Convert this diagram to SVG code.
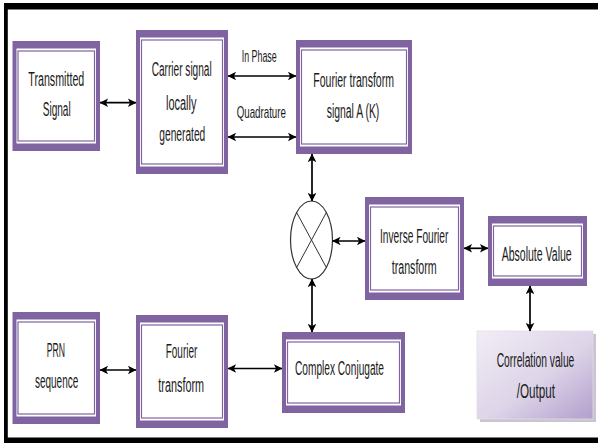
<svg xmlns="http://www.w3.org/2000/svg" width="598" height="443" viewBox="0 0 598 443">
<style>
.o{fill:#8064a2}
.w{fill:#ffffff}
.t{fill:none;stroke:#8064a2;stroke-width:1.2}
text{font-family:"Liberation Sans",Arial,sans-serif;font-size:12px;fill:#1a1a1a;text-anchor:middle}
.lbl{font-size:10px}
.c line{stroke:#000;stroke-width:1.7;marker-start:url(#ah);marker-end:url(#ah)}
</style>
<defs>
<marker id="ah" viewBox="0 0 10 10" refX="9.5" refY="5" markerWidth="9.5" markerHeight="8.5" markerUnits="userSpaceOnUse" orient="auto-start-reverse">
<path d="M0,0 L10,5 L0,10 L2.5,5 z" fill="#000"/>
</marker>
<linearGradient id="g" x1="0" y1="0" x2="1" y2="1">
<stop offset="0" stop-color="#f1edf5"/>
<stop offset="0.55" stop-color="#ddd4e8"/>
<stop offset="1" stop-color="#b29ecc"/>
</linearGradient>
</defs>
<rect width="598" height="443" fill="#fff"/>
<g id="frame">
<rect x="4" y="3" width="600" height="6.5" fill="#000"/>
<rect x="4" y="3" width="3.8" height="440" fill="#000"/>
<rect x="4" y="437.5" width="600" height="6" fill="#000"/>
</g>
<g id="transmitted">
<rect class="o" x="12.5" y="41" width="87.5" height="110"/>
<rect class="w" x="16.5" y="48.5" width="79.5" height="95"/>
<rect class="t" x="18" y="51" width="76.5" height="90"/>
<text transform="translate(56.3,86) scale(1,1.667)" textLength="56" lengthAdjust="spacingAndGlyphs">Transmitted</text>
<text transform="translate(56.7,116) scale(1,1.667)" textLength="28" lengthAdjust="spacingAndGlyphs">Signal</text>
</g>
<g id="carrier">
<rect class="o" x="136" y="30" width="92" height="144"/>
<rect class="w" x="140" y="37.5" width="84" height="129"/>
<rect class="t" x="141.5" y="40" width="81" height="124"/>
<text transform="translate(181.7,75.5) scale(1,1.667)" textLength="60" lengthAdjust="spacingAndGlyphs">Carrier signal</text>
<text transform="translate(181.2,109.5) scale(1,1.667)" textLength="30.5" lengthAdjust="spacingAndGlyphs">locally</text>
<text transform="translate(182.3,141) scale(1,1.667)" textLength="46" lengthAdjust="spacingAndGlyphs">generated</text>
</g>
<g id="fourierA">
<rect class="o" x="296" y="40" width="116" height="114"/>
<rect class="w" x="300" y="47.5" width="108" height="99"/>
<rect class="t" x="301.5" y="50" width="105" height="94"/>
<text transform="translate(353.6,86.5) scale(1,1.667)" textLength="80.7" lengthAdjust="spacingAndGlyphs">Fourier transform</text>
<text transform="translate(353,117.5) scale(1,1.667)" textLength="52.6" lengthAdjust="spacingAndGlyphs">signal A (K)</text>
</g>
<g id="multiplier">
<ellipse cx="311.5" cy="240" rx="21" ry="39" fill="#fff" stroke="#333" stroke-width="1.2"/>
<line x1="296.6" y1="212.4" x2="326.4" y2="267.6" stroke="#333" stroke-width="1"/>
<line x1="326.4" y1="212.4" x2="296.6" y2="267.6" stroke="#333" stroke-width="1"/>
</g>
<g id="inverse">
<rect class="o" x="365" y="197" width="99" height="103"/>
<rect class="w" x="369" y="204.5" width="91" height="88"/>
<rect class="t" x="370.5" y="207" width="88" height="83"/>
<text transform="translate(414.2,243.3) scale(1,1.667)" textLength="68.3" lengthAdjust="spacingAndGlyphs">Inverse Fourier</text>
<text transform="translate(414.2,274.3) scale(1,1.667)" textLength="45" lengthAdjust="spacingAndGlyphs">transform</text>
</g>
<g id="absolute">
<rect class="o" x="488" y="216" width="99" height="70"/>
<rect class="w" x="492" y="223.5" width="91" height="55"/>
<rect class="t" x="493.5" y="226" width="88" height="50"/>
<text transform="translate(536.7,261) scale(1,1.667)" textLength="70" lengthAdjust="spacingAndGlyphs">Absolute Value</text>
</g>
<g id="correlation">
<rect x="480" y="334" width="116" height="88" fill="#c9c4cf"/>
<rect x="477" y="331" width="116" height="88" fill="url(#g)" stroke="#e2dbe9" stroke-width="0.8"/>
<text transform="translate(535.5,366.7) scale(1,1.667)" textLength="77.6" lengthAdjust="spacingAndGlyphs">Correlation value</text>
<text transform="translate(535.8,398) scale(1,1.667)" textLength="38.3" lengthAdjust="spacingAndGlyphs">/Output</text>
</g>
<g id="conjugate">
<rect class="o" x="282" y="332" width="123" height="81"/>
<rect class="w" x="286" y="339.5" width="115" height="66"/>
<rect class="t" x="287.5" y="342" width="112" height="61"/>
<text transform="translate(339.5,375) scale(1,1.667)" textLength="89" lengthAdjust="spacingAndGlyphs">Complex Conjugate</text>
</g>
<g id="prn">
<rect class="o" x="12.5" y="312" width="87.5" height="112"/>
<rect class="w" x="16.5" y="319.5" width="79.5" height="97"/>
<rect class="t" x="18" y="322" width="76.5" height="92"/>
<text transform="translate(55.8,357.3) scale(1,1.667)" textLength="18.3" lengthAdjust="spacingAndGlyphs">PRN</text>
<text transform="translate(56.6,388.3) scale(1,1.667)" textLength="43.3" lengthAdjust="spacingAndGlyphs">sequence</text>
</g>
<g id="fourier">
<rect class="o" x="136" y="315" width="92" height="113"/>
<rect class="w" x="140" y="322.5" width="84" height="98"/>
<rect class="t" x="141.5" y="325" width="81" height="93"/>
<text transform="translate(181.5,358.3) scale(1,1.667)" textLength="31.6" lengthAdjust="spacingAndGlyphs">Fourier</text>
<text transform="translate(181.2,392) scale(1,1.667)" textLength="45.7" lengthAdjust="spacingAndGlyphs">transform</text>
</g>
<g id="connectors" class="c">
<line x1="100" y1="102.7" x2="136" y2="102.7"/>
<line x1="228" y1="76" x2="296" y2="76"/>
<line x1="228" y1="137" x2="296" y2="137"/>
<line x1="312" y1="154" x2="312" y2="201"/>
<line x1="332.5" y1="241" x2="365" y2="241"/>
<line x1="464" y1="248.3" x2="488" y2="248.3"/>
<line x1="530" y1="286" x2="530" y2="331"/>
<line x1="312" y1="279" x2="312" y2="332"/>
<line x1="100" y1="370" x2="136" y2="370"/>
<line x1="228" y1="368.5" x2="282" y2="368.5"/>
</g>
<g id="labels">
<text class="lbl" transform="translate(259.2,61.5) scale(1,1.6)" textLength="35" lengthAdjust="spacingAndGlyphs">In Phase</text>
<text class="lbl" transform="translate(261.3,118) scale(1,1.6)" textLength="49.3" lengthAdjust="spacingAndGlyphs">Quadrature</text>
</g>
</svg>
